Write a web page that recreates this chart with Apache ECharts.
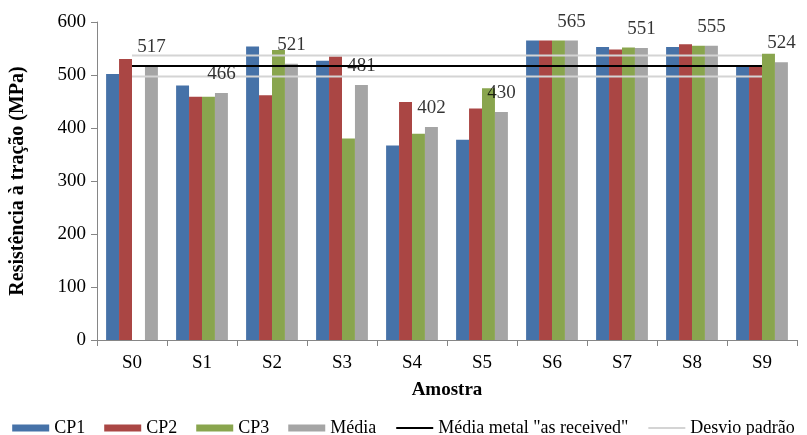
<!DOCTYPE html>
<html>
<head>
<meta charset="utf-8">
<script src="https://cdn.jsdelivr.net/npm/echarts@6/dist/echarts.min.js"></script>
<style>
html,body{margin:0;padding:0;background:#fff;}
#chart{width:807px;height:435px;}
</style>
</head>
<body>
<div id="chart"></div>
<script>
var categories = ['S0','S1','S2','S3','S4','S5','S6','S7','S8','S9'];
var cp1 = [502, 480, 554, 527, 367, 378, 565, 553, 553, 516];
var cp2 = [530, 459, 462, 535, 449, 437, 565, 548, 558, 516];
var cp3 = [null, 459, 547, 380, 389, 475, 565, 552, 555, 540];
var media = [517, 466, 521, 481, 402, 430, 565, 551, 555, 524];
var asReceived = [517, 517, 517, 517, 517, 517, 517, 517, 517, 517];
var desvioSup = [537, 537, 537, 537, 537, 537, 537, 537, 537, 537];
var desvioInf = [497, 497, 497, 497, 497, 497, 497, 497, 497, 497];
var yTicks = [0, 100, 200, 300, 400, 500, 600];

var FONT = '"Liberation Serif", "Times New Roman", serif';
var axisColor = '#868686';

var chart = echarts.init(document.getElementById('chart'));
function barSeries(name, data, color) {
  return {
    name: name, type: 'bar', data: data,
    barGap: '0%', barCategoryGap: '26%',
    itemStyle: { color: color },
    emphasis: { disabled: true },
    z: 2
  };
}
function lineSeries(name, data, color, width) {
  return { name: name, type: 'line', data: data, symbol: 'none', showSymbol: false,
    lineStyle: { color: color, width: width }, itemStyle: { color: color },
    emphasis: { disabled: true }, z: 3, animation: false };
}
var hiddenSymbol = { color: 'rgba(0,0,0,0)', opacity: 0, borderWidth: 0 };
chart.setOption({
  animation: false,
  backgroundColor: '#fff',
  grid: { left: 93, right: 10, top: 22, bottom: 95 },
  legend: {
    top: 414, left: 'center', itemWidth: 37, itemHeight: 7, itemGap: 19,
    textStyle: { fontFamily: FONT, fontSize: 18, color: '#000' },
    data: [
      { name: 'CP1', icon: 'rect' }, { name: 'CP2', icon: 'rect' },
      { name: 'CP3', icon: 'rect' }, { name: 'Média', icon: 'rect' },
      { name: 'Média metal "as received"', itemStyle: hiddenSymbol },
      { name: 'Desvio padrão', itemStyle: hiddenSymbol }
    ]
  },
  xAxis: {
    type: 'category', data: categories,
    name: 'Amostra', nameLocation: 'middle', nameGap: 41,
    nameTextStyle: { fontFamily: FONT, fontSize: 19, fontWeight: 'bold', color: '#000' },
    axisLine: { lineStyle: { color: axisColor } },
    axisTick: { show: true, length: 6, lineStyle: { color: axisColor } },
    axisLabel: { fontFamily: FONT, fontSize: 19, color: '#000', margin: 14 },
    splitLine: { show: false }
  },
  yAxis: {
    type: 'value', min: yTicks[0], max: yTicks[yTicks.length - 1], interval: 100,
    name: 'Resistência à tração (MPa)', nameLocation: 'middle', nameGap: 69,
    nameTextStyle: { fontFamily: FONT, fontSize: 20, fontWeight: 'bold', color: '#000' },
    axisLine: { show: true, lineStyle: { color: axisColor } },
    axisTick: { show: true, length: 6, lineStyle: { color: axisColor } },
    axisLabel: { fontFamily: FONT, fontSize: 19, color: '#000', margin: 11 },
    splitLine: { show: false }
  },
  series: [
    barSeries('CP1', cp1, '#4672A8'),
    barSeries('CP2', cp2, '#AA4644'),
    barSeries('CP3', cp3, '#89A54E'),
    barSeries('Média', media, '#A5A5A5'),
    lineSeries('Desvio padrão', desvioSup, '#D4D4D4', 2),
    lineSeries('Desvio padrão', desvioInf, '#D4D4D4', 2),
    lineSeries('Média metal "as received"', asReceived, '#000000', 2),
    {
      name: 'mediaLabels', type: 'scatter', data: media,
      symbolSize: 1, itemStyle: { color: 'rgba(0,0,0,0)' }, z: 10,
      emphasis: { disabled: true }, silent: true,
      label: { show: true, position: 'top', distance: 9, offset: [19.5, 0],
        color: '#000', fontFamily: FONT, fontSize: 19 }
    }
  ]
});
</script>
</body>
</html>
